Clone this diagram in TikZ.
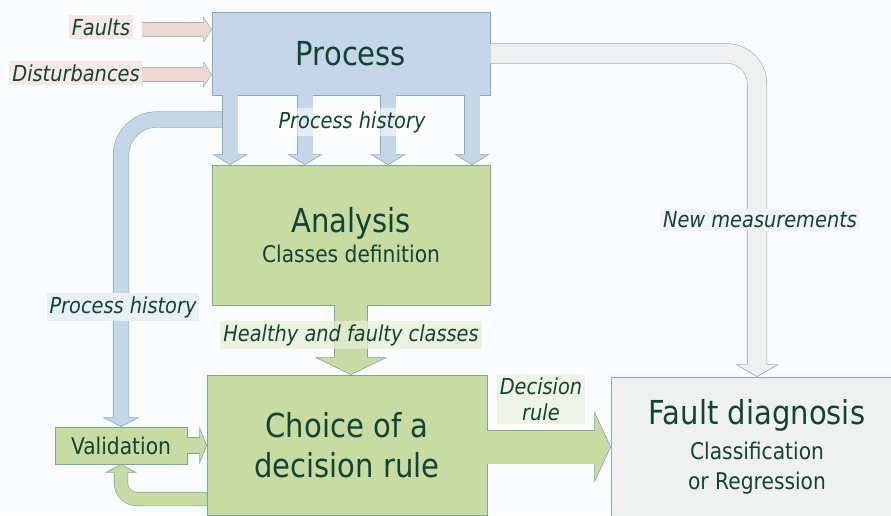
\documentclass[tikz,border=0pt]{standalone}
\usepackage{fontspec}
\setmainfont{DejaVu Sans}[FakeStretch=0.88]
\usetikzlibrary{calc}

\definecolor{bg}{RGB}{251,252,253}
\definecolor{txt}{RGB}{18,68,52}
\definecolor{bluefill}{RGB}{197,214,232}
\definecolor{blueline}{RGB}{135,170,195}
\definecolor{greenfill}{RGB}{199,219,163}
\definecolor{greenline}{RGB}{125,168,150}
\definecolor{grayfill}{RGB}{239,240,240}
\definecolor{grayline}{RGB}{140,172,188}
\definecolor{pinkfill}{RGB}{236,217,210}
\definecolor{pinkline}{RGB}{170,182,188}
\definecolor{pinkbg}{RGB}{246,232,228}
\definecolor{bluebg}{RGB}{232,240,246}
\definecolor{greenbg}{RGB}{230,239,214}
\definecolor{graybg}{RGB}{240,244,246}

\newcommand\bigfont{\fontsize{33}{40}\selectfont}
\newcommand\midfont{\fontsize{23}{30}\selectfont}
\newcommand\lblfont{\fontsize{22}{26}\selectfont\itshape}

\tikzset{
  box/.style={draw=#1line, fill=#1fill, line width=0.8pt, inner sep=0pt,
    text=txt, align=center},
  shaft/.style={draw=#1line, double=#1fill, line width=0.6pt},
  lbl/.style={font=\lblfont, text=txt, inner sep=3pt},
  pics/head/.style n args={4}{code={
    \fill[#1fill] (0,0) -- (-#3,#2/2) -- (-#3,-#2/2) -- cycle;
    \draw[#1line, line width=0.6pt]
      (-#3,#4/2+0.6) -- (-#3,#2/2) -- (0,0) -- (-#3,-#2/2) -- (-#3,-#4/2-0.6);
  }}
}

\begin{document}
\begin{tikzpicture}[x=1pt, y=-1pt]
  \fill[bg] (0,0) rectangle (891,515);
  \useasboundingbox (0,0) rectangle (891,515);

  % boxes
  \node[box=blue, minimum width=278pt, minimum height=83pt, font=\bigfont]
    (proc) at (351,53.5) {Process};
  \node[box=green, minimum width=278pt, minimum height=140pt, font=\bigfont]
    (ana) at (351,235) {Analysis\\[-10pt]\midfont Classes definition};
  \node[box=green, minimum width=280pt, minimum height=140pt, font=\bigfont]
    (choice) at (347,445) {Choice of a\\decision rule};
  \node[box=gray, minimum width=292pt, minimum height=140pt, font=\bigfont]
    (fault) at (757,447) {Fault diagnosis\\[-5pt]\midfont Classification\\[-10pt]\midfont or Regression};
  \node[box=green, minimum width=132pt, minimum height=37pt, font=\midfont]
    (val) at (121,445.5) {Validation};

  % inputs
  \node[lbl, fill=pinkbg] (faults) at (101,27) {Faults};
  \node[lbl, fill=pinkbg] (dist) at (76,73) {Disturbances};
  \coordinate (fin) at (142,29.5);
  \coordinate (din) at (142,74.5);
  \draw[shaft=pink, double distance=13pt, shorten >=7pt] (fin) -- (fin -| proc.west);
  \pic at (fin -| proc.west) {head={pink}{25}{8}{13}};
  \draw[shaft=pink, double distance=13pt, shorten >=7pt] (din) -- (din -| proc.west);
  \pic at (din -| proc.west) {head={pink}{25}{8}{13}};

  % process history
  \coordinate (hist) at (230,119.5);
  \draw[shaft=blue, double distance=15pt, rounded corners=36pt, shorten >=8pt]
    (hist) -- (121,119.5) -- (val.north);
  \pic[rotate=-90] at (val.north) {head={blue}{35}{9}{15}};
  \foreach \x in {230,305,388,472}{
    \draw[shaft=blue, double distance=15pt, shorten >=9pt]
      (\x,0 |- proc.south) -- (\x,0 |- ana.north);
    \pic[rotate=-90] at (\x,0 |- ana.north) {head={blue}{33}{10}{15}};
  }

  % new measurements
  \draw[shaft=gray, double distance=19pt, rounded corners=30pt, shorten >=11pt]
    (proc.east) -- (757,53.5) -- (fault.north);
  \pic[rotate=-90] at (fault.north) {head={gray}{41}{12}{19}};

  % classes and decision rule
  \draw[shaft=green, double distance=32pt, shorten >=16pt]
    (ana.south) -- (ana.south |- choice.north);
  \pic[rotate=-90] at (ana.south |- choice.north) {head={green}{70}{17}{32}};
  \draw[shaft=green, double distance=33pt, shorten >=15pt]
    (choice.east |- 0,447) -- (fault.west |- 0,447);
  \pic at (fault.west |- 0,447) {head={green}{69}{16}{33}};

  % validation loop
  \draw[shaft=green, double distance=15pt, shorten >=6pt]
    (val.east) -- (val.east -| choice.west);
  \pic at (val.east -| choice.west) {head={green}{35}{7}{15}};
  \draw[shaft=green, double distance=13pt, rounded corners=16pt, shorten >=7pt]
    (choice.west |- 0,499) -- (121,499) -- (val.south);
  \pic[rotate=90] at (val.south) {head={green}{30}{8}{13}};

  % labels
  \node[lbl, fill=white, fill opacity=.55, text opacity=1] (ph1) at (352,122) {Process history};
  \node[lbl, fill=bluebg] (ph2) at (123,307) {Process history};
  \node[lbl, fill=greenbg, fill opacity=.75, text opacity=1] (hf) at (351,335) {Healthy and faulty classes};
  \node[lbl, fill=greenbg, fill opacity=.6, text opacity=1, align=center] (dr) at (541,399) {Decision\\rule};
  \node[lbl, fill=graybg] (nm) at (760,220) {New measurements};
\end{tikzpicture}
\end{document}
